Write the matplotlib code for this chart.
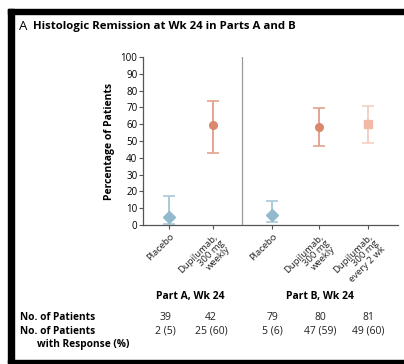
import matplotlib.pyplot as plt
from matplotlib.patches import Rectangle

plt.rcParams['font.family'] = ['Open Sans', 'DejaVu Sans']

# data
groups = ['Placebo', 'Dupilumab,\n300 mg\nweekly', 'Placebo',
          'Dupilumab,\n300 mg\nweekly', 'Dupilumab,\n300 mg\nevery 2 wk']
pct = [5, 59.5, 6, 58.5, 60]
ci_low = [0.5, 43, 1.5, 47, 49]
ci_high = [17, 74, 14, 69.5, 71]
n_patients = ['39', '42', '79', '80', '81']
n_response = ['2 (5)', '25 (60)', '5 (6)', '47 (59)', '49 (60)']
yticks = list(range(0, 101, 10))

xpos = [0.56, 1.5, 2.76, 3.76, 4.81]
markers = ['D', 'o', 'D', 'o', 's']
mcol = ['#92b9cc', '#d9876d', '#92b9cc', '#d9876d', '#f2b9a8']
ecol = ['#a9c9d9', '#e2a48f', '#a9c9d9', '#e2a48f', '#f3cfc3']

fig = plt.figure(figsize=(4.04, 3.64), dpi=100)
W, H = 404, 364

# black frame (left, top, bottom)
fig.patches.append(Rectangle((8 / W, 1 - 14 / H), 1, 5 / H, color='black',
                             transform=fig.transFigure, zorder=0))
fig.patches.append(Rectangle((8 / W, 1 - 363 / H), 6 / W, 354 / H, color='black',
                             transform=fig.transFigure, zorder=0))
fig.patches.append(Rectangle((8 / W, 1 - 363 / H), 1, 3 / H, color='black',
                             transform=fig.transFigure, zorder=0))

ax = fig.add_axes([143 / W, 1 - 225 / H, 255 / W, 168 / H])
ax.set_xlim(0, 5.45)
ax.set_ylim(0, 100)

for i in range(len(xpos)):
    ax.errorbar(xpos[i], pct[i],
                yerr=[[pct[i] - ci_low[i]], [ci_high[i] - pct[i]]],
                fmt='none', ecolor=ecol[i], elinewidth=1.4, capsize=4, capthick=1.2)
    ax.plot(xpos[i], pct[i], marker=markers[i], color=mcol[i],
            markersize=5.5 if markers[i] != 'D' else 6, zorder=3)

ax.axvline(2.12, color='#9a9a9a', lw=0.9)

for s in ['top', 'right']:
    ax.spines[s].set_visible(False)
ax.spines['left'].set_color('#555555')
ax.spines['bottom'].set_color('#555555')
ax.spines['left'].set_linewidth(0.9)
ax.spines['bottom'].set_linewidth(0.9)

ax.set_yticks(yticks)
ax.tick_params(axis='y', labelsize=7, length=3, width=0.8, color='#555555', pad=1)
ax.set_xticks(xpos)
ax.set_xticklabels(groups, rotation=45, ha='right', rotation_mode='anchor',
                   fontsize=6.8, linespacing=0.95, color='#222222')
ax.tick_params(axis='x', length=3, width=0.8, color='#555555', pad=2)
for lbl in ax.get_xticklabels():
    lbl.set_multialignment('right')

ax.set_ylabel('Percentage of Patients', fontsize=7.5, fontweight='bold', labelpad=4)

fig.text(19 / W, 1 - 27 / H, 'A', fontsize=9.5, va='center', ha='left')
fig.text(33 / W, 1 - 27 / H, 'Histologic Remission at Wk 24 in Parts A and B',
         fontsize=8.2, fontweight='bold', va='center', ha='left')

# table below
fig.text(190 / W, 1 - 296 / H, 'Part A, Wk 24', fontsize=7.5, fontweight='bold',
         ha='center', va='center')
fig.text(320 / W, 1 - 296 / H, 'Part B, Wk 24', fontsize=7.5, fontweight='bold',
         ha='center', va='center')
fig.text(20 / W, 1 - 318 / H, 'No. of Patients', fontsize=7.3, fontweight='bold',
         ha='left', va='center')
fig.text(20 / W, 1 - 331 / H, 'No. of Patients', fontsize=7.3, fontweight='bold',
         ha='left', va='center')
fig.text(37 / W, 1 - 344 / H, 'with Response (%)', fontsize=7.3, fontweight='bold',
         ha='left', va='center')

col_x = [165, 211, 272, 320, 368]
for i in range(len(col_x)):
    fig.text(col_x[i] / W, 1 - 318 / H, n_patients[i], fontsize=7.5,
             ha='center', va='center', color='#222222')
    fig.text(col_x[i] / W, 1 - 331 / H, n_response[i], fontsize=7.5,
             ha='center', va='center', color='#222222')

fig.savefig('out.png', dpi=100)
